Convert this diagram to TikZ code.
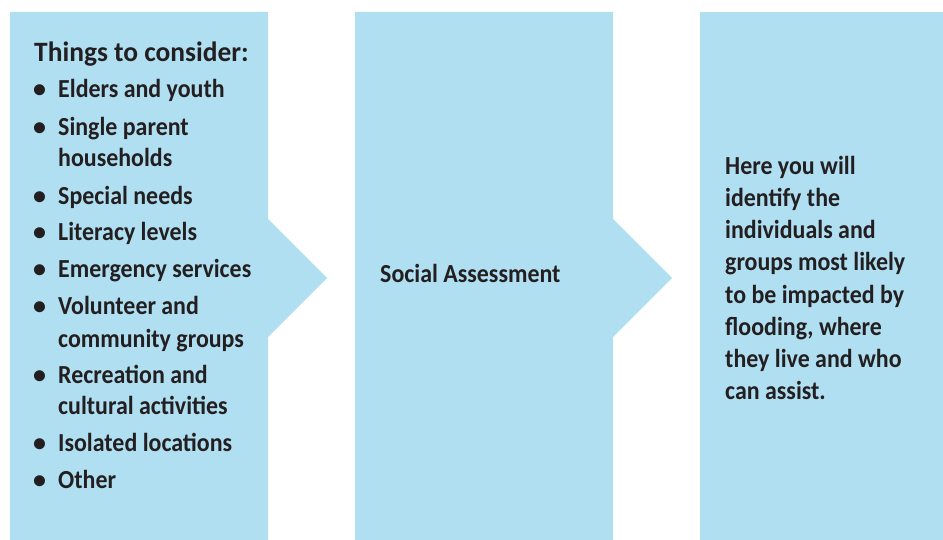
\documentclass[tikz,border=0pt]{standalone}
\usepackage{fontspec}
\setmainfont{Carlito}
\newfontfamily\itemfont[FakeStretch=0.92]{Carlito}
\newfontfamily\headfont[FakeStretch=0.98]{Carlito}
\definecolor{panelblue}{HTML}{B0DFF2}
\definecolor{ink}{HTML}{231F20}
\begin{document}
\begin{tikzpicture}[x=1pt,y=-1pt,
  panelshape/.style={fill=panelblue,draw=none},
  txt/.style={anchor=base west,inner sep=0pt,text=ink,font=\itemfont\fontsize{26}{31}\selectfont\bfseries},
  headtxt/.style={anchor=base west,inner sep=0pt,text=ink,font=\headfont\fontsize{28}{31}\selectfont\bfseries},
  bul/.style={anchor=base,inner sep=0pt,text=ink,font=\fontsize{26}{31}\selectfont\bfseries}]
\useasboundingbox (0,0) rectangle (943,540);
% panels
\path[panelshape] (10,12) -- (268,12) -- (268,219) -- (327,278) -- (268,337) -- (268,540) -- (10,540) -- cycle;
\path[panelshape] (355,12) -- (613,12) -- (613,219) -- (672,278) -- (613,337) -- (613,540) -- (355,540) -- cycle;
\path[panelshape] (700,12) -- (943,12) -- (943,540) -- (700,540) -- cycle;
% left panel
\node[headtxt] (head) at (34,62) {Things to consider:};
\foreach \y/\t/\n in {98/Elders and youth/a, 136/Single parent/b, 205/Special needs/c, 241/Literacy levels/d, 278/Emergency services/e, 315/Volunteer and/f, 383/Recreation and/g, 451/Isolated locations/h, 488/Other/i}{
  \node[bul] (bul\n) at (39.5,\y) {\textbullet};
  \node[txt] (item\n) at (58,\y) {\t};
}
\node[txt] (itemb2) at (58,167) {households};
\node[txt] (itemf2) at (58,347) {community groups};
\node[txt] (itemg2) at (58,414) {cultural activities};
% middle panel
\node[txt] (social) at (380,283) {Social Assessment};
% right panel
\foreach \y/\t/\n in {175/Here you will/1, 207/identify the/2, 239/individuals and/3, 271/groups most likely/4, 303/to be impacted by/5, 335/{flooding, where}/6, 367/they live and who/7, 399/can assist./8}{
  \node[txt] (desc\n) at (725,\y) {\t};
}
\end{tikzpicture}
\end{document}
